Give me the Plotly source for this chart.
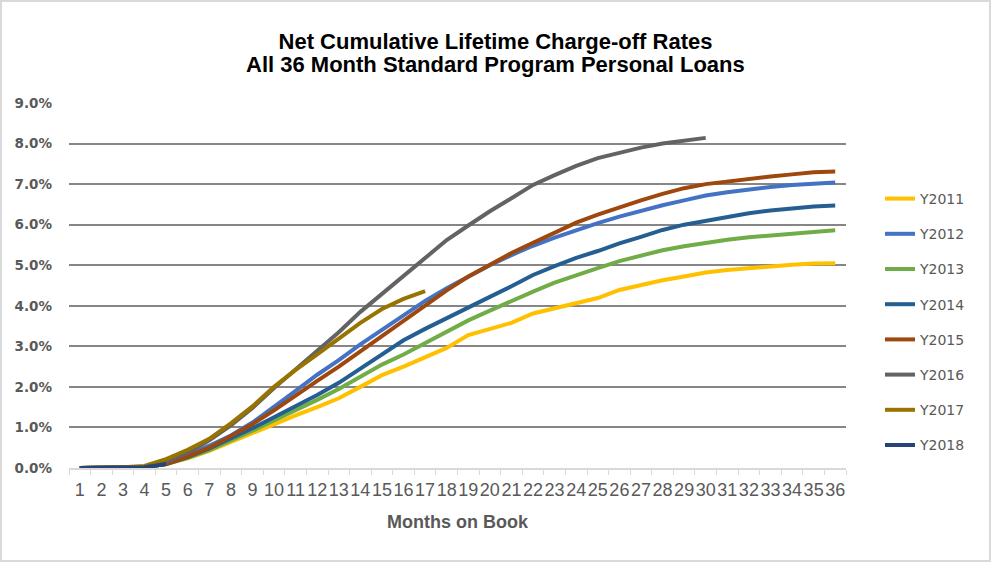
import plotly.graph_objects as go

months = list(range(1, 37))

y2011 = [0.0, 0.0, 0.01, 0.02, 0.1, 0.24, 0.42, 0.64, 0.88, 1.1, 1.3, 1.5, 1.72, 2.0, 2.29, 2.5, 2.72, 2.96, 3.28, 3.43,
         3.58, 3.81, 3.93, 4.06, 4.19, 4.39, 4.52, 4.63, 4.72, 4.82, 4.88, 4.93, 4.98, 5.01, 5.04, 5.05]
y2012 = [0.0, 0.0, 0.01, 0.02, 0.12, 0.32, 0.55, 0.8, 1.12, 1.5, 1.9, 2.3, 2.66, 3.05, 3.4, 3.77, 4.12, 4.43, 4.72, 5.0,
         5.25, 5.48, 5.68, 5.87, 6.04, 6.2, 6.35, 6.48, 6.6, 6.72, 6.8, 6.87, 6.93, 6.98, 7.02, 7.04]
y2013 = [0.0, 0.0, 0.01, 0.02, 0.1, 0.25, 0.44, 0.67, 0.92, 1.17, 1.42, 1.68, 1.95, 2.25, 2.55, 2.8, 3.08, 3.38, 3.64, 3.88,
         4.12, 4.35, 4.57, 4.76, 4.93, 5.1, 5.24, 5.37, 5.47, 5.56, 5.63, 5.69, 5.74, 5.79, 5.82, 5.86]
y2014 = [0.0, 0.0, 0.01, 0.02, 0.1, 0.27, 0.48, 0.72, 0.98, 1.25, 1.52, 1.8, 2.1, 2.45, 2.8, 3.15, 3.43, 3.7, 3.96, 4.22,
         4.48, 4.76, 4.98, 5.18, 5.35, 5.54, 5.7, 5.87, 6.0, 6.1, 6.2, 6.28, 6.35, 6.4, 6.45, 6.47]
y2015 = [0.0, 0.0, 0.01, 0.02, 0.1, 0.28, 0.5, 0.78, 1.08, 1.42, 1.8, 2.15, 2.5, 2.88, 3.25, 3.65, 4.01, 4.38, 4.72, 5.02,
         5.3, 5.55, 5.8, 6.05, 6.25, 6.43, 6.6, 6.76, 6.9, 7.0, 7.07, 7.13, 7.19, 7.24, 7.29, 7.31]
y2016 = [0.0, 0.0, 0.02, 0.03, 0.15, 0.38, 0.68, 1.05, 1.48, 1.97, 2.43, 2.88, 3.35, 3.85, 4.3, 4.75, 5.18, 5.62, 5.98, 6.33,
         6.65, 6.98, 7.22, 7.45, 7.64, 7.78, 7.9, 8.0, 8.07, 8.14]
y2017 = [0.0, 0.0, 0.02, 0.05, 0.22, 0.45, 0.72, 1.1, 1.52, 2.0, 2.42, 2.8, 3.2, 3.58, 3.92, 4.17, 4.36]
y2018 = [0.0, 0.0, 0.01, 0.02, 0.1]

series_names = ["Y2011", "Y2012", "Y2013", "Y2014", "Y2015", "Y2016", "Y2017", "Y2018"]
series_values = [y2011, y2012, y2013, y2014, y2015, y2016, y2017, y2018]
series_colors = ["#FFC000", "#4472C4", "#70AD47", "#255E91", "#9E480E", "#636363", "#997300", "#264478"]

y_ticks = [0, 1, 2, 3, 4, 5, 6, 7, 8, 9]

title_line1 = "Net Cumulative Lifetime Charge-off Rates"
title_line2 = "All 36 Month Standard Program Personal Loans"

fig = go.Figure()
for name, vals, col in zip(series_names, series_values, series_colors):
    fig.add_trace(go.Scatter(
        x=months[:len(vals)], y=vals, name=name, mode="lines",
        line=dict(color=col, width=4), legendgroup=name,
    ))

W, H = 991, 562
L, R, T, B = 69, 145, 103, 94
pw, ph = W - L - R, H - T - B


def py_to_paper(py):
    return (H - B - py) / ph


title_font = dict(family="Liberation Sans, Arial", size=22, color="#000000", weight="bold")

fig.update_layout(
    width=W, height=H,
    margin=dict(l=L, r=R, t=T, b=B, autoexpand=False),
    paper_bgcolor="white", plot_bgcolor="white",
    title=dict(
        text=title_line1,
        x=0.5, xref="container", xanchor="center",
        y=1 - 41 / H, yref="container", yanchor="middle",
        font=title_font,
    ),
    annotations=[dict(
        text=title_line2, xref="paper", yref="paper",
        x=(W / 2 - L) / pw, y=py_to_paper(64), xanchor="center", yanchor="middle",
        showarrow=False, font=title_font,
    )],
    showlegend=True,
    legend=dict(
        x=880 / W, xref="container", xanchor="left",
        y=1 - 183 / H, yref="container", yanchor="top",
        font=dict(family="DejaVu Sans", size=14, color="#595959"),
        tracegroupgap=14, bgcolor="rgba(0,0,0,0)", borderwidth=0, maxheight=400,
    ),
    xaxis=dict(
        range=[0.5, 36.5], tickmode="array", tickvals=months, ticktext=[str(m) for m in months],
        ticks="", showgrid=False, zeroline=False, tickangle=0, automargin=False,
        showline=True, linecolor="#d9d9d9", linewidth=1.5,
        minor=dict(tick0=0.5, dtick=1, ticks="outside", ticklen=5, tickcolor="#d9d9d9", tickwidth=1, showgrid=False),
        tickfont=dict(family="Liberation Sans, Arial", size=18, color="#595959"),
        ticklabelstandoff=5,
        title=dict(text="Months on Book", standoff=16,
                   font=dict(family="Liberation Sans, Arial", size=18, color="#595959", weight="bold")),
        fixedrange=True,
    ),
    yaxis=dict(
        range=[0, 9], tickmode="array", tickvals=y_ticks, automargin=False,
        ticktext=[f"{v:.1f}%" for v in y_ticks],
        ticks="", showgrid=True, gridcolor="#868686", gridwidth=1.5, zeroline=False,
        showline=False,
        tickfont=dict(family="DejaVu Sans", size=13.5, color="#595959", weight="bold"),
        ticklabelstandoff=16,
        fixedrange=True,
    ),
    shapes=[dict(
        type="rect", xref="paper", yref="paper",
        x0=(1 - L) / pw, x1=(W - 1 - L) / pw,
        y0=py_to_paper(H - 1), y1=py_to_paper(1),
        line=dict(color="#d9d9d9", width=2), fillcolor="rgba(0,0,0,0)", layer="below",
    )],
)

fig.write_html(
    "out.html",
    config={"displayModeBar": False},
    post_script="document.body.style.margin='0';document.body.style.overflow='hidden';",
)
